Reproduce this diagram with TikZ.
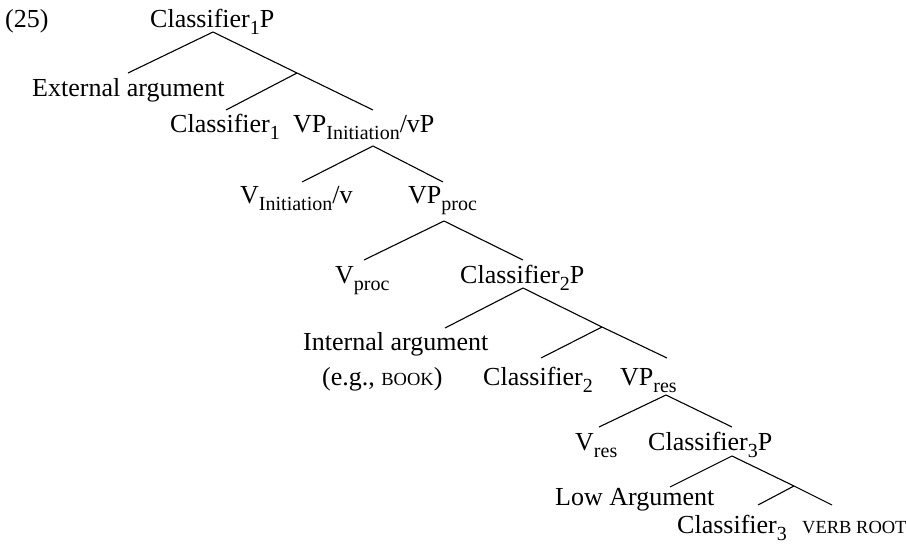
\documentclass[tikz,border=0pt]{standalone}
\usepackage{fontspec}
\setmainfont{Liberation Serif}
\newcommand\sbs[1]{\raisebox{-7pt}{\fontsize{20}{20}\selectfont #1}}
\newcommand\smc[1]{{\fontsize{18.5}{18.5}\selectfont #1}}
\begin{document}
\begin{tikzpicture}[x=1pt,y=-1pt,
  lbl/.style={inner sep=0pt, anchor=base west, font=\fontsize{26}{30}\selectfont},
  br/.style={line width=1.1pt}]
\useasboundingbox (0,0) rectangle (906,544);
% labels
\node[lbl] (ex)   at (5,27)    {(25)};
\node[lbl] (c1p)  at (150,27)  {Classifier\sbs{1}P};
\node[lbl] (ext)  at (32,96)   {External argument};
\node[lbl] (c1)   at (170,132) {Classifier\sbs{1}};
\node[lbl] (vpi)  at (293,132) {VP\sbs{Initiation}/vP};
\node[lbl] (vi)   at (240,203) {V\sbs{Initiation}/v};
\node[lbl] (vpp)  at (408,203) {VP\sbs{proc}};
\node[lbl] (vp)   at (335,283) {V\sbs{proc}};
\node[lbl] (c2p)  at (460,283) {Classifier\sbs{2}P};
\node[lbl] (int)  at (303,350) {Internal argument};
\node[lbl] (eg)   at (322,385) {(e.g., \smc{BOOK})};
\node[lbl] (c2)   at (483,385) {Classifier\sbs{2}};
\node[lbl] (vpr)  at (620,385) {VP\sbs{res}};
\node[lbl] (vr)   at (575,450) {V\sbs{res}};
\node[lbl] (c3p)  at (648,450) {Classifier\sbs{3}P};
\node[lbl] (low)  at (555,505) {Low Argument};
\node[lbl] (c3)   at (677,533) {Classifier\sbs{3}};
\node[lbl] (root) at (802,533) {\smc{VERB ROOT}};
% attachment points
\coordinate (c1p-d) at (213,32);
\coordinate (ext-u) at (128,73);
\coordinate (c1bar) at (297,73);
\coordinate (c1-u)  at (226,110);
\coordinate (vpi-u) at (373,110);
\coordinate (vpi-d) at (373,146);
\coordinate (vi-u)  at (302,182);
\coordinate (vpp-u) at (443,182);
\coordinate (vpp-d) at (444,221);
\coordinate (vp-u)  at (364,260);
\coordinate (c2p-u) at (523,260);
\coordinate (c2p-d) at (523,288);
\coordinate (int-u) at (445,328);
\coordinate (c2bar) at (602,327);
\coordinate (c2-u)  at (541,358);
\coordinate (vpr-u) at (667,358);
\coordinate (vpr-d) at (666,395);
\coordinate (vr-u)  at (599,427);
\coordinate (c3p-u) at (732,427);
\coordinate (c3p-d) at (732,456);
\coordinate (low-u) at (670,487);
\coordinate (c3bar) at (794,486);
\coordinate (c3-u)  at (758,505);
\coordinate (root-u) at (832,505);
% branches
\draw[br] (ext-u) -- (c1p-d) -- (c1bar) -- (vpi-u);
\draw[br] (c1-u) -- (c1bar);
\draw[br] (vi-u) -- (vpi-d) -- (vpp-u);
\draw[br] (vp-u) -- (vpp-d) -- (c2p-u);
\draw[br] (int-u) -- (c2p-d) -- (c2bar) -- (vpr-u);
\draw[br] (c2-u) -- (c2bar);
\draw[br] (vr-u) -- (vpr-d) -- (c3p-u);
\draw[br] (low-u) -- (c3p-d) -- (c3bar) -- (root-u);
\draw[br] (c3-u) -- (c3bar);
\end{tikzpicture}
\end{document}
